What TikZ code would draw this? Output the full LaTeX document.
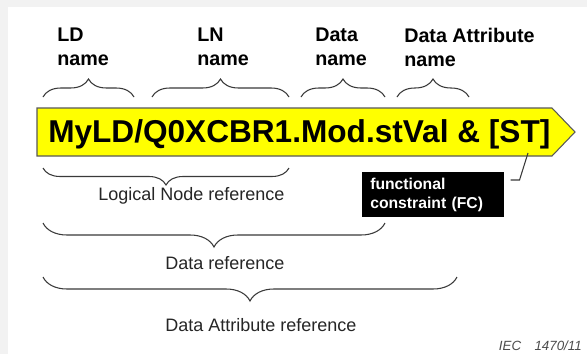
\documentclass[tikz,border=0pt]{standalone}
\usepackage{fontspec}
\setmainfont{Liberation Sans}
\usetikzlibrary{decorations.pathreplacing}
\definecolor{markyellow}{HTML}{FFFF00}
\definecolor{braceline}{HTML}{3A3A3A}
\tikzset{curly/.style={draw=braceline, line width=0.8pt, decorate,
   decoration={brace, amplitude=#1}},
 curly/.default=13.5pt,
 toplabel/.style={anchor=north west, inner sep=0pt, align=left,
   font=\bfseries\fontsize{14.8}{18}\selectfont},
 reflabel/.style={anchor=base west, inner sep=0pt, text=black!85,
   font=\fontsize{13.5}{16}\selectfont},
 fcbox/.style={anchor=north west, fill=black, text=white, align=left,
   inner xsep=6pt, text width=94.5pt, minimum height=33.75pt,
   font=\bfseries\fontsize{11.8}{13.8}\selectfont},
 lead/.style={draw=braceline, line width=0.8pt},
 }

\begin{document}
\begin{tikzpicture}[x=0.75pt, y=-0.75pt]
        \useasboundingbox (0,0) rectangle (587,354);
        \fill[black!5] (0,0) rectangle (587,354);
        \fill[white] (8,7) rectangle (587,354);
        % names above the reference
        \foreach \a/\b/\t/\txt in {43/134/57/{LD\\name}, 152/289/197/{LN\\name},
                                301/385/315/{Data\\name}, 397/469/404/{Data Attribute\\name}} {
            \node[toplabel] at (\t, 28) {\txt};
            \draw[curly] (\a, 97) -- (\b, 97);
        }
        % the reference itself
        \draw[fill=markyellow, draw=black!65, line width=0.8pt]
            (37,108) -- (552,108) -- (575,132) -- (552,156) -- (37,156) -- cycle;
        \node[anchor=base west, inner sep=0pt, font=\bfseries\fontsize{23.7}{28}\selectfont]
            (ref) at (48,142) {MyLD/Q0XCBR1.Mod.stVal \& [ST]};
        % braces below
        \draw[curly=12.75pt] (289,168) -- (43,168);
        \node[reflabel] (lnref) at (98,200) {Logical Node reference};
        \draw[curly=18pt] (385,223) -- (43,223);
        \node[reflabel] (dref) at (165,269) {Data reference};
        \draw[curly=18pt] (457,277) -- (43,277);
        \node[reflabel] (daref) at (165,331) {Data Attribute reference};
        % functional constraint
        \node[fcbox] (fc) at (362,172) {functional\\constraint (FC)};
        \coordinate (st) at (528,153);
        \draw[lead] ([xshift=4.5pt,yshift=-6pt]fc.north east) -- ++(9,0) -- (st);
        \node[anchor=base east, inner sep=0pt, text=black!70,
              font=\itshape\fontsize{10}{12}\selectfont] (iec) at (582,350) {IEC\quad 1470/11};
    \end{tikzpicture}
\end{document}
